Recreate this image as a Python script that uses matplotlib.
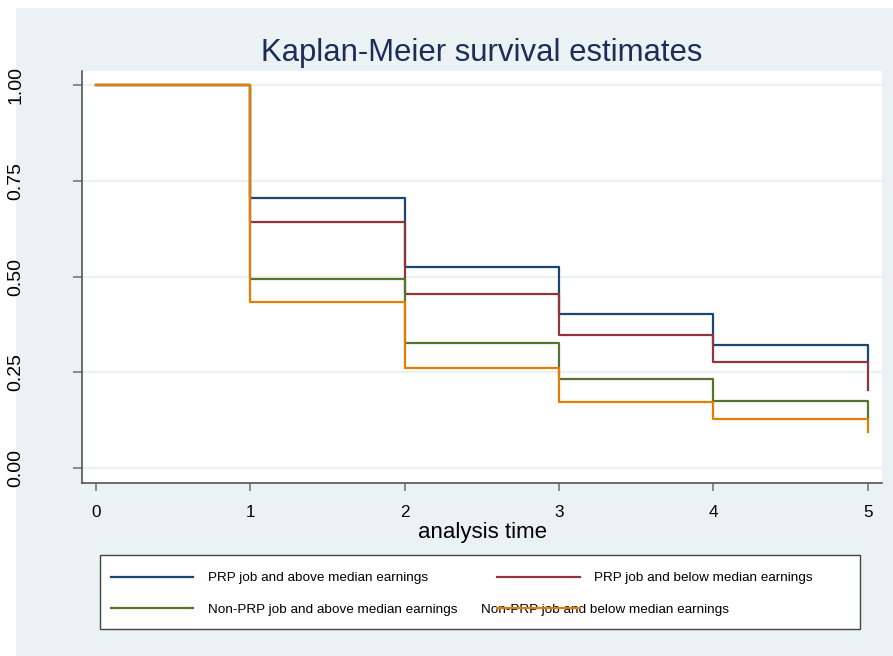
import matplotlib
matplotlib.use("Agg")
import matplotlib.pyplot as plt
from matplotlib.lines import Line2D
from matplotlib.patches import Rectangle

plt.rcParams['font.family'] = ['Liberation Sans', 'DejaVu Sans']

# Data
times = [0, 1, 2, 3, 4, 5]
prp_above = [1.0, 0.704, 0.526, 0.403, 0.3225, 0.277]
prp_below = [1.0, 0.643, 0.455, 0.349, 0.277, 0.205]
nonprp_above = [1.0, 0.494, 0.326, 0.232, 0.176, 0.129]
nonprp_below = [1.0, 0.433, 0.262, 0.174, 0.129, 0.094]

series = [prp_above, prp_below, nonprp_above, nonprp_below]
labels = ["PRP job and above median earnings",
          "PRP job and below median earnings",
          "Non-PRP job and above median earnings",
          "Non-PRP job and below median earnings"]
colors = ["#1a476f", "#90353b", "#55752f", "#e37e00"]

xticks = [0, 1, 2, 3, 4, 5]
yticks = [0.0, 0.25, 0.5, 0.75, 1.0]
ytick_labels = ["0.00", "0.25", "0.50", "0.75", "1.00"]

# Layout helpers (pixel coords, origin top-left)
W, H = 893, 656
BG = "#eaf2f3"


def fx(px):
    return px / W


def fy(py):
    return 1 - py / H


fig = plt.figure(figsize=(W / 100, H / 100), dpi=100, facecolor="white")

# light outer panel
fig.add_artist(Rectangle((fx(16), fy(656)), fx(893) - fx(16), fy(8) - fy(656),
                         transform=fig.transFigure, facecolor=BG,
                         edgecolor="none", zorder=0))

ax = fig.add_axes([fx(82), fy(483), fx(882) - fx(82), fy(71) - fy(483)])
ax.set_facecolor("white")

for vals, col in zip(series, colors):
    ax.step(times, vals, where="post", color=col, lw=1.6)

ax.set_xlim(-0.0914, 5.093)
ax.set_ylim(-0.0385, 1.0366)

ax.set_yticks(yticks)
ax.set_yticklabels(ytick_labels, rotation=90, fontsize=14, va="center")
ax.set_xticks(xticks)
ax.tick_params(axis="x", labelsize=12.3, length=6, width=1.2, color="#777777", pad=10)
ax.tick_params(axis="y", length=6.5, width=1.2, color="#777777", pad=35)

ax.yaxis.grid(True, color=BG, lw=1.6)
ax.set_axisbelow(True)

for side in ["top", "right"]:
    ax.spines[side].set_visible(False)
for side in ["left", "bottom"]:
    ax.spines[side].set_color("#555555")
    ax.spines[side].set_linewidth(1.2)

ax.set_title("Kaplan-Meier survival estimates", fontsize=22.4,
             color="#1c2d58", pad=7.4)
fig.text(fx(482), fy(538.3), "analysis time", fontsize=16,
         ha="center", va="baseline")

# legend box (drawn by hand to mimic the original layout)
fig.add_artist(Rectangle((fx(100), fy(628.5)), fx(860) - fx(100), fy(555) - fy(628.5),
                         transform=fig.transFigure, facecolor="white",
                         edgecolor="#444444", lw=1.0, zorder=1))

rows = [576.5, 607.5]
line_x = [(111, 193), (497, 580)]
text_x = [[208, 594], [208, 481]]
for i, (lab, col) in enumerate(zip(labels, colors)):
    r, c = divmod(i, 2)
    fig.text(fx(text_x[r][c]), fy(rows[r] + 2), lab, fontsize=9.7,
             ha="left", va="center", zorder=2)
    x0, x1 = line_x[c]
    fig.add_artist(Line2D([fx(x0), fx(x1)], [fy(rows[r]), fy(rows[r])],
                          transform=fig.transFigure, color=col, lw=1.6, zorder=3))

fig.savefig("out.png", dpi=100, facecolor="white")
